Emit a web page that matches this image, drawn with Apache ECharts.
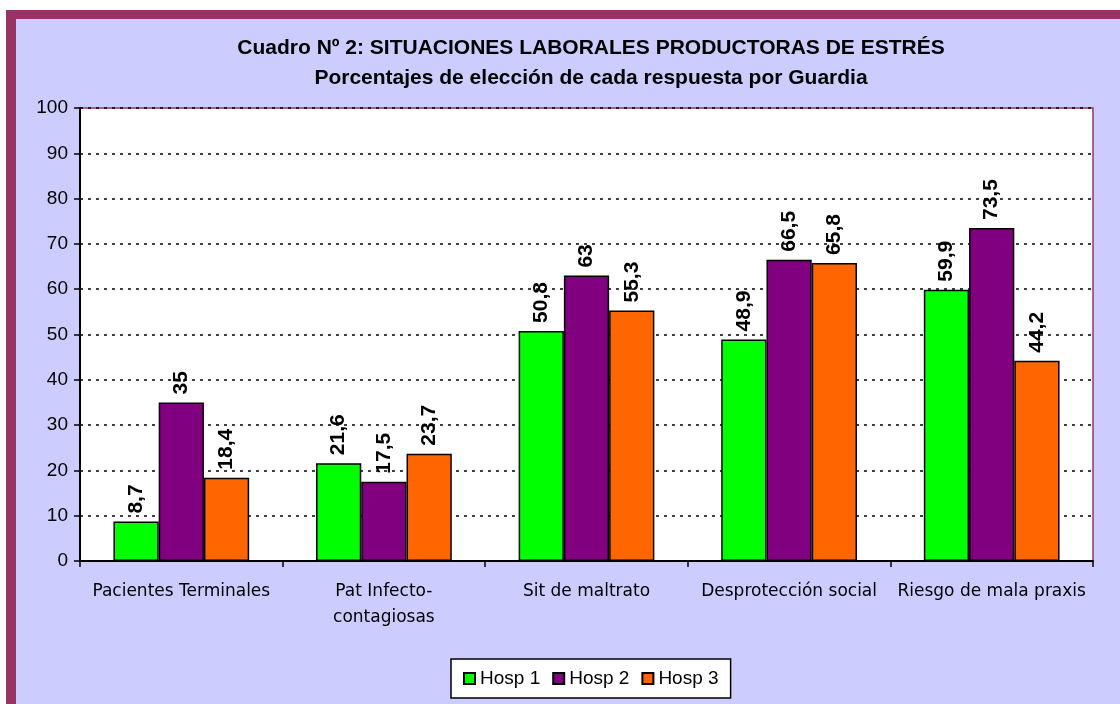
<!DOCTYPE html>
<html><head><meta charset="utf-8">
<script src="https://cdn.jsdelivr.net/npm/echarts@6/dist/echarts.min.js"></script>
<style>html,body{margin:0;padding:0;background:#fff;}#c{width:1120px;height:704px;}</style>
</head><body><div id="c"></div>
<script>
const categories = ['Pacientes Terminales', 'Pat Infecto-\ncontagiosas', 'Sit de maltrato', 'Desprotección social', 'Riesgo de mala praxis'];
const hosp1 = [8.7, 21.6, 50.8, 48.9, 59.9];
const hosp2 = [35, 17.5, 63, 66.5, 73.5];
const hosp3 = [18.4, 23.7, 55.3, 65.8, 44.2];
const seriesNames = ['Hosp 1', 'Hosp 2', 'Hosp 3'];
const seriesColors = ['#00FF00', '#800080', '#FF6600'];
const yTicks = {min: 0, max: 100, interval: 10};

const chart = echarts.init(document.getElementById('c'));
const F = 'Arial, "Liberation Sans", sans-serif';
function mk(name, data, color) {
  return {
    name, type: 'bar', data, barGap: '0%', barCategoryGap: '33%',
    itemStyle: {color, borderColor: '#000', borderWidth: 1.5},
    label: {
      show: true, position: 'top', rotate: 90, align: 'left', verticalAlign: 'middle',
      distance: 8, fontFamily: F, fontWeight: 'bold', fontSize: 21, color: '#000',
      formatter: p => String(p.value).replace('.', ',')
    }
  };
}
chart.setOption({
  backgroundColor: '#CCCCFF',
  animation: false,
  graphic: [
    {type: 'rect', shape: {x: 0, y: 0, width: 1120, height: 10}, style: {fill: '#fff'}, z: 100, silent: true},
    {type: 'rect', shape: {x: 0, y: 0, width: 6, height: 704}, style: {fill: '#fff'}, z: 100, silent: true},
    {type: 'rect', shape: {x: 6, y: 10, width: 1114, height: 9}, style: {fill: '#993366'}, z: 100, silent: true},
    {type: 'rect', shape: {x: 6, y: 10, width: 10, height: 694}, style: {fill: '#993366'}, z: 100, silent: true}
  ],
  title: {
    text: 'Cuadro Nº 2: SITUACIONES LABORALES PRODUCTORAS DE ESTRÉS\nPorcentajes de elección de cada respuesta por Guardia',
    left: 586, top: 28, textAlign: 'center',
    textStyle: {fontFamily: F, fontWeight: 'bold', fontSize: 21, lineHeight: 30, color: '#000'}
  },
  legend: {
    data: seriesNames, left: 451, top: 659,
    padding: [10, 12, 10, 12], itemGap: 12, itemWidth: 11, itemHeight: 11,
    backgroundColor: '#fff', borderColor: '#000', borderWidth: 1.5,
    icon: 'rect',
    textStyle: {fontFamily: F, fontSize: 19, color: '#000'}
  },
  grid: {left: 80, top: 108, right: 27, bottom: 143, show: true, backgroundColor: '#fff', borderColor: '#993366', borderWidth: 1.5},
  xAxis: {
    type: 'category', data: categories,
    axisLine: {lineStyle: {color: '#000', width: 2}},
    axisTick: {show: true, length: 6, lineStyle: {color: '#000', width: 1.5}},
    axisLabel: {fontFamily: '"DejaVu Sans", Verdana, sans-serif', fontSize: 17, color: '#000', margin: 18, lineHeight: 26, interval: 0}
  },
  yAxis: {
    type: 'value', min: yTicks.min, max: yTicks.max, interval: yTicks.interval,
    axisLine: {show: true, lineStyle: {color: '#000', width: 2}},
    axisTick: {show: true, length: 6, lineStyle: {color: '#000', width: 1.5}},
    axisLabel: {fontFamily: F, fontSize: 19, color: '#000', margin: 12},
    splitLine: {lineStyle: {color: '#000', type: [3, 5], width: 1.5}}
  },
  series: [mk(seriesNames[0], hosp1, seriesColors[0]), mk(seriesNames[1], hosp2, seriesColors[1]), mk(seriesNames[2], hosp3, seriesColors[2])]
});
</script></body></html>
